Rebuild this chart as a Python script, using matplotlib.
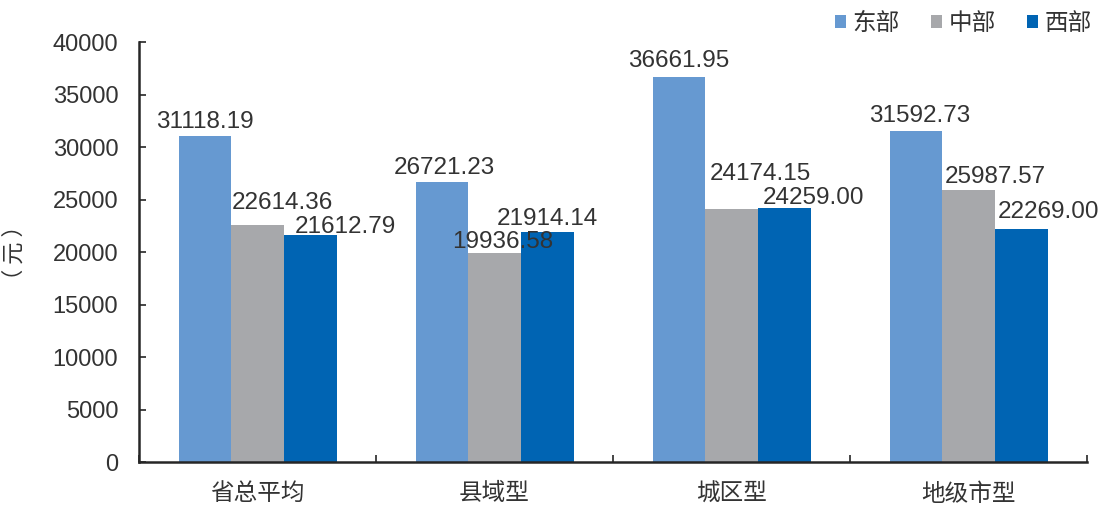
import numpy as np
import matplotlib as mpl
mpl.use('Agg')
import matplotlib.pyplot as plt

plt.rcParams['font.family'] = ['Liberation Sans', 'Noto Sans CJK SC', 'DejaVu Sans']

categories = ['省总平均', '县域型', '城区型', '地级市型']
series_names = ['东部', '中部', '西部']
east = [31118.19, 26721.23, 36661.95, 31592.73]
middle = [22614.36, 19936.58, 24174.15, 25987.57]
west = [21612.79, 21914.14, 24259.00, 22269.00]
colors = ['#6699d1', '#a7a8ab', '#0064b3']

# label nudges in pixels (left edge of text vs left edge of bar, baseline above bar top)
label_dx = [[-22, 1, 11], [-22, -16, -24], [-24, 5, 5], [-20, 3, 3]]
label_dy = [[8, 16, 2], [8, 5, 7], [10, 29, 4], [9, 7, 11]]

text_c = '#333333'

fig = plt.figure(figsize=(11, 5.05), dpi=100)
ax = fig.add_axes([0.1264, 0.0842, 0.8618, 0.8320])

x = np.arange(len(categories))
w = 2 / 9
for i, (vals, name) in enumerate(zip([east, middle, west], series_names)):
    pos = x + (i - 1) * w
    ax.bar(pos, vals, width=w, color=colors[i], label=name, zorder=2)
    for g, (px, v) in enumerate(zip(pos, vals)):
        ax.annotate('%.2f' % v, xy=(px - w / 2, v),
                    xytext=(label_dx[g][i], label_dy[g][i]),
                    textcoords='offset pixels', ha='left', va='baseline',
                    fontsize=17.5, color=text_c, zorder=3)

ax.set_xlim(-0.5, len(categories) - 0.5)
ax.set_ylim(0, 40000)
ax.set_yticks(np.arange(0, 40001, 5000))
ax.tick_params(axis='y', labelsize=17, labelcolor=text_c, color='#262626',
               direction='in', length=5, width=1.2, pad=15)
ax.set_xticks(x)
ax.set_xticklabels(categories)
ax.tick_params(axis='x', labelsize=17, labelcolor=text_c, length=0, pad=15)
# group boundary ticks pointing inward
ax.set_xticks(np.arange(-0.5, len(categories), 1.0), minor=True)
ax.tick_params(axis='x', which='minor', direction='in', length=5, width=1.2,
               color='#262626')

for s in ['top', 'right']:
    ax.spines[s].set_visible(False)
for s in ['left', 'bottom']:
    ax.spines[s].set_linewidth(1.8)
    ax.spines[s].set_color('#262626')

ax.set_ylabel('（ 元 ）', fontsize=16, color=text_c,
              family=['Noto Sans CJK SC', 'DejaVu Sans'])
ax.yaxis.set_label_coords(-0.12, 0.5)

leg = fig.legend(loc='upper right', bbox_to_anchor=(0.993, 0.975), ncol=3,
                 frameon=False, fontsize=17, handlelength=0.47, handleheight=0.47,
                 handletextpad=0.3, columnspacing=1.3, borderpad=0,
                 borderaxespad=0)
for t in leg.get_texts():
    t.set_color(text_c)

plt.savefig('out.png', dpi=100)
plt.close()
